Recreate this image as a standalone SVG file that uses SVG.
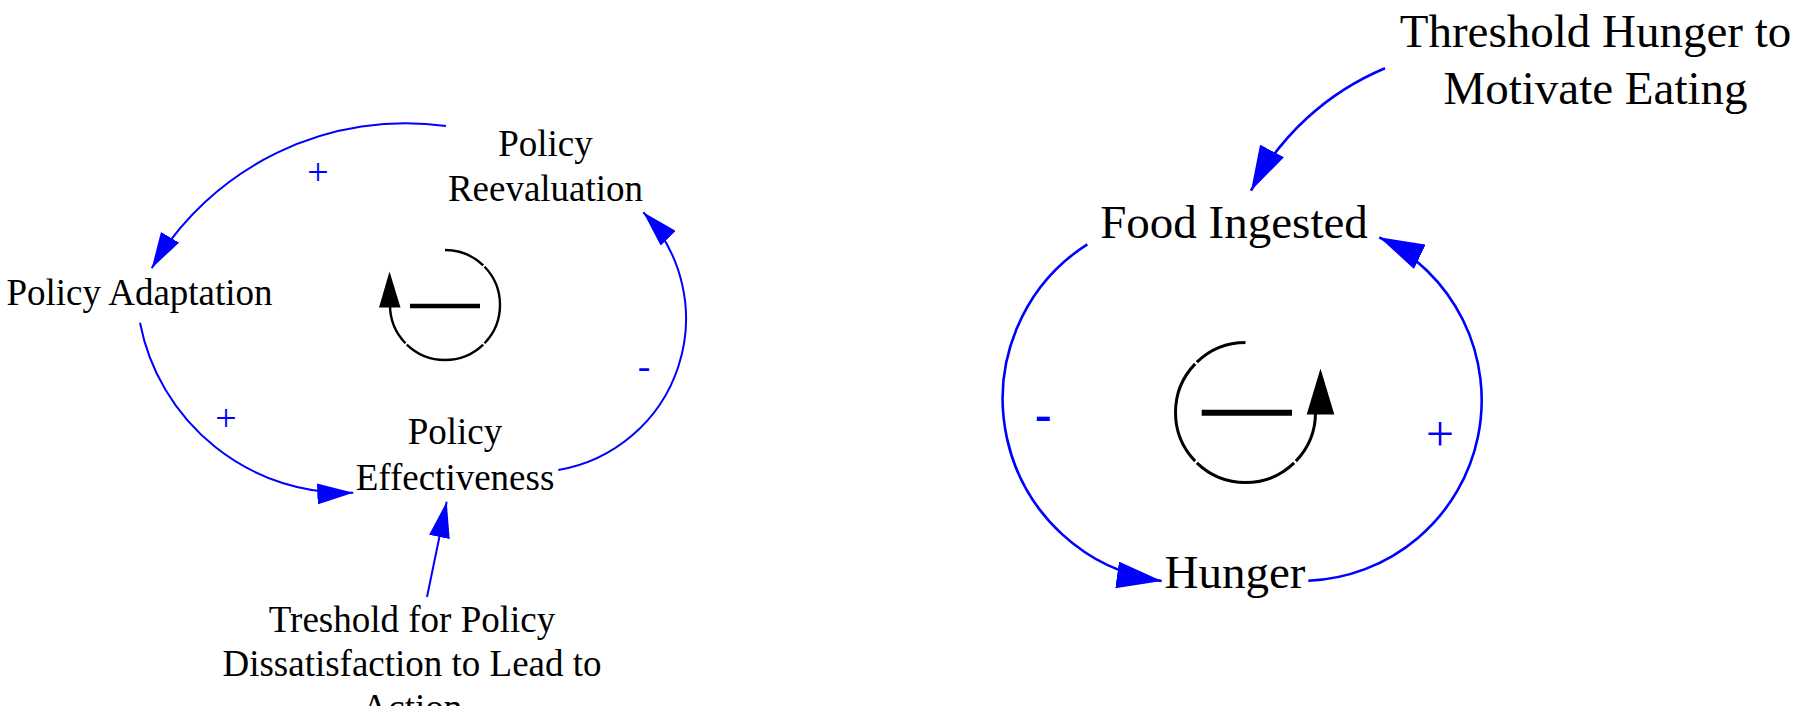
<svg xmlns="http://www.w3.org/2000/svg" width="1808" height="706" viewBox="0 0 1808 706">
  <style>
    .node { font-family: "Liberation Serif", "Times New Roman", serif; fill: #000; text-anchor: middle; }
    .l { font-size: 37px; }
    .r { font-size: 47px; }
    .link { fill: none; stroke: #0000FF; }
    .lk { stroke-width: 2; }
    .rk { stroke-width: 2.6; }
    .pol { font-family: "Liberation Serif", "Times New Roman", serif; fill: #0000FF; text-anchor: middle; }
    .loop { fill: none; stroke: #000; }
  </style>
  <defs>
    <marker id="arrowS" markerUnits="userSpaceOnUse" viewBox="0 0 36 21" markerWidth="36" markerHeight="21" refX="36" refY="10.5" orient="auto">
      <path d="M0,0 L36,10.5 L0,21 Z" fill="#0000FF"/>
    </marker>
    <marker id="arrowL" markerUnits="userSpaceOnUse" viewBox="0 0 45 27" markerWidth="45" markerHeight="27" refX="45" refY="13.5" orient="auto">
      <path d="M0,0 L45,13.5 L0,27 Z" fill="#0000FF"/>
    </marker>
  </defs>
  <rect width="1808" height="706" fill="#FFFFFF"/>

  <g id="connectors">
    <path class="link lk" d="M446,126 A295,295 0 0 0 151.7,268.3" marker-end="url(#arrowS)"/>
    <path class="link lk" d="M140,322.7 A210,210 0 0 0 353.3,492.7" marker-end="url(#arrowS)"/>
    <path class="link lk" d="M558.3,470 A153.6,153.6 0 0 0 643.3,212.3" marker-end="url(#arrowS)"/>
    <path class="link lk" d="M427,597 L446.7,501.7" marker-end="url(#arrowS)"/>
    <path class="link rk" d="M1385,68.3 A268.4,268.4 0 0 0 1251,190.7" marker-end="url(#arrowL)"/>
    <path class="link rk" d="M1087.3,244.3 A183.7,183.7 0 0 0 1161.7,581" marker-end="url(#arrowL)"/>
    <path class="link rk" d="M1308.3,580.7 A180.7,180.7 0 0 0 1379.3,237.3" marker-end="url(#arrowL)"/>
  </g>

  <g id="link-polarities">
    <text class="pol" x="318" y="184.6" font-size="38">+</text>
    <text class="pol" x="226" y="431.3" font-size="38">+</text>
    <text class="pol" x="644" y="379.3" font-size="38">-</text>
    <text class="pol" x="1043.3" y="431.3" font-size="50" font-weight="bold">-</text>
    <text class="pol" x="1440" y="451" font-size="50">+</text>
  </g>

  <g id="loop-left">
    <path class="loop" stroke-width="2.4" d="M445,250 A55,55 0 0 1 483.21,265.44 M484.56,266.79 A55,55 0 0 1 484.56,343.21 M483.21,344.56 A55,55 0 0 1 406.79,344.56 M405.44,343.21 A55,55 0 0 1 390,305 L390,308"/>
    <polygon points="389.5,271.5 379,307.5 400.5,307.5" fill="#000"/>
    <line x1="410" y1="306" x2="480" y2="306" stroke="#000" stroke-width="4.5"/>
  </g>

  <g id="loop-right">
    <path class="loop" stroke-width="3" d="M1245.5,342.5 A70,70 0 0 0 1196.87,362.15 M1195.15,363.87 A70,70 0 0 0 1195.15,461.13 M1196.87,462.85 A70,70 0 0 0 1294.13,462.85 M1295.85,461.13 A70,70 0 0 0 1315.5,412.5 L1315.5,415"/>
    <polygon points="1320.5,368.5 1306.7,414.5 1334.3,414.5" fill="#000"/>
    <line x1="1201.7" y1="412.7" x2="1292" y2="412.7" stroke="#000" stroke-width="6"/>
  </g>

  <g id="node-policy-reevaluation">
    <text class="node l" x="545.5" y="156">Policy</text>
    <text class="node l" x="545.5" y="201">Reevaluation</text>
  </g>
  <g id="node-policy-adaptation">
    <text class="node l" x="139.5" y="305">Policy Adaptation</text>
  </g>
  <g id="node-policy-effectiveness">
    <text class="node l" x="455" y="443.5">Policy</text>
    <text class="node l" x="455" y="490">Effectiveness</text>
  </g>
  <g id="node-treshold">
    <text class="node l" x="412" y="632">Treshold for Policy</text>
    <text class="node l" x="412" y="676">Dissatisfaction to Lead to</text>
    <text class="node l" x="412" y="720">Action</text>
  </g>
  <g id="node-threshold-hunger">
    <text class="node r" x="1595.5" y="46.7">Threshold Hunger to</text>
    <text class="node r" x="1595.5" y="104">Motivate Eating</text>
  </g>
  <g id="node-food-ingested">
    <text class="node r" x="1234" y="238.3">Food Ingested</text>
  </g>
  <g id="node-hunger">
    <text class="node r" x="1235" y="588.3">Hunger</text>
  </g>
</svg>
